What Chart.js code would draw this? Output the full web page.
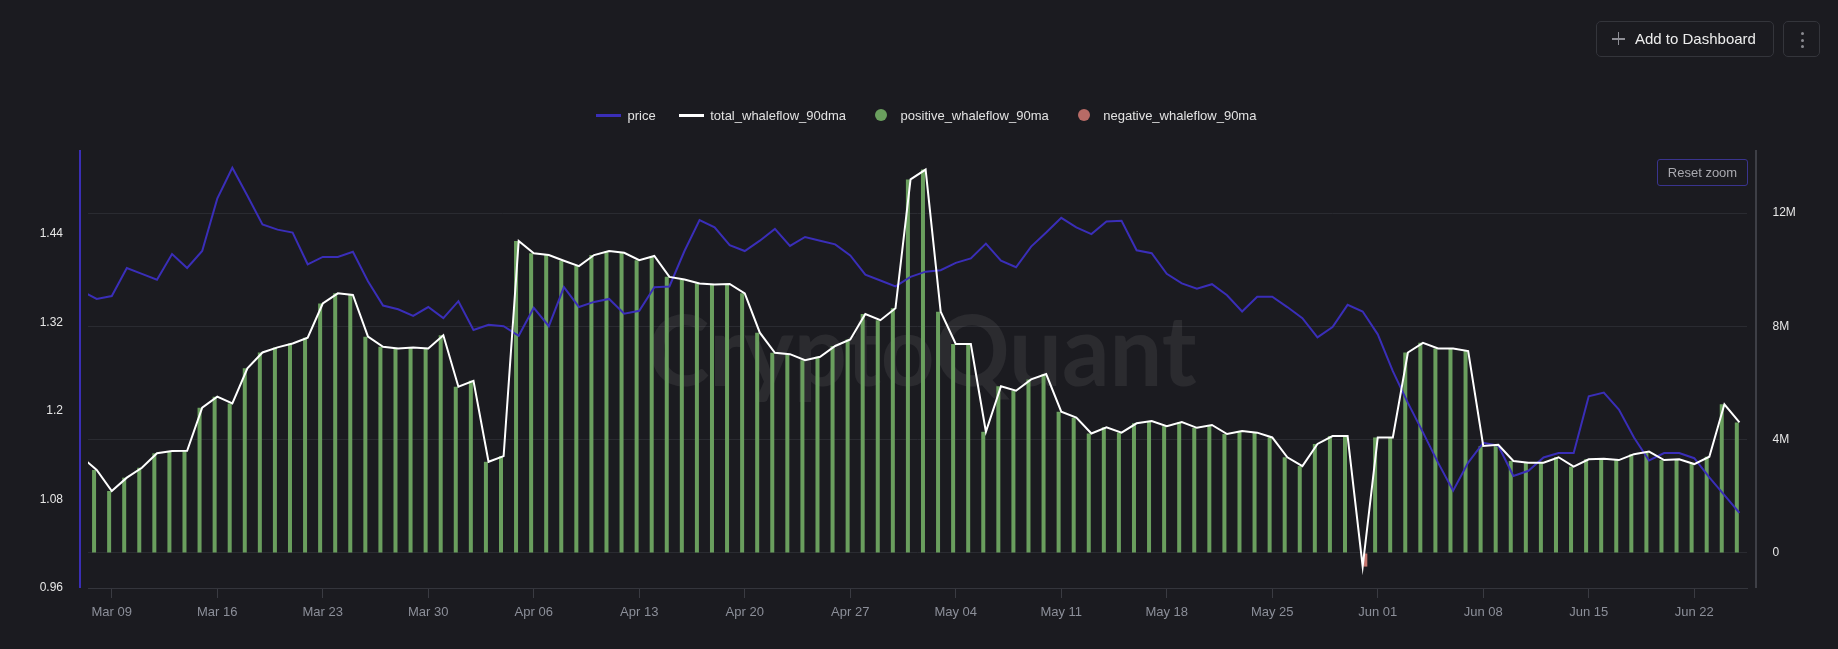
<!DOCTYPE html>
<html lang="en">
<head>
  <meta charset="UTF-8">
  <title>Whaleflow 90ma</title>
  <style>
    html, body {
      margin: 0;
      padding: 0;
      background: #1b1b20;
      overflow: hidden;
    }
    body {
      font-family: "Liberation Sans", Arial, sans-serif;
    }
    .wrap {
      position: relative;
      width: 1838px;
      height: 649px;
    }
    canvas {
      position: absolute;
      left: 0;
      top: 0;
    }
    .btn {
      position: absolute;
      box-sizing: border-box;
      border: 1px solid #34353b;
      border-radius: 5px;
      color: #ededed;
    }
    #addBtn {
      left: 1596px;
      top: 21px;
      width: 178px;
      height: 36px;
      font-size: 15px;
      line-height: 34px;
      padding-left: 38px;
    }
    #addBtn .plus-h, #addBtn .plus-v {
      position: absolute;
      background: #8e8e95;
    }
    #addBtn .plus-h { left: 15px; top: 16px; width: 13px; height: 1.5px; }
    #addBtn .plus-v { left: 20.75px; top: 10.25px; width: 1.5px; height: 13px; }
    #moreBtn {
      left: 1783px;
      top: 21px;
      width: 37px;
      height: 36px;
    }
    #moreBtn span {
      position: absolute;
      left: 17px;
      width: 3px;
      height: 3px;
      border-radius: 50%;
      background: #8a8a90;
    }
    #resetBtn {
      position: absolute;
      box-sizing: border-box;
      left: 1657px;
      top: 159px;
      width: 91px;
      height: 27px;
      border: 1px solid #3a348e;
      border-radius: 3px;
      color: #a9a9af;
      font-size: 13px;
      line-height: 25px;
      text-align: center;
    }
    .legend {
      position: absolute;
      left: 596px;
      top: 106px;
      height: 18px;
      display: flex;
      align-items: center;
      font-size: 13px;
      color: #e2e2e2;
      white-space: nowrap;
    }
    .legend .item { display: flex; align-items: center; }
    .legend .item + .item { margin-left: 23px; }
    .legend .item.is-dot { margin-left: 29px; }
    .legend .is-line .sym { width: 25px; height: 3px; margin-right: 6.5px; }
    .legend .is-dot .sym { width: 12px; height: 12px; border-radius: 50%; margin-right: 13.5px; }
  </style>
</head>
<body>
  <div class="wrap">
    <canvas id="chart" width="1838" height="649"></canvas>
    <div class="legend" id="legend"></div>
    <div class="btn" id="addBtn"><span class="plus-h"></span><span class="plus-v"></span>Add to Dashboard</div>
    <div class="btn" id="moreBtn"><span style="top:10px"></span><span style="top:16.5px"></span><span style="top:23px"></span></div>
    <div id="resetBtn">Reset zoom</div>
  </div>

  <script src="https://cdn.jsdelivr.net/npm/chart.js"></script>

  <script>
    // daily points, Mar 07 .. Jun 25
    const dates = [
      'Mar 07', 'Mar 08', 'Mar 09', 'Mar 10', 'Mar 11', 'Mar 12', 'Mar 13', 'Mar 14', 'Mar 15', 'Mar 16',
      'Mar 17', 'Mar 18', 'Mar 19', 'Mar 20', 'Mar 21', 'Mar 22', 'Mar 23', 'Mar 24', 'Mar 25', 'Mar 26',
      'Mar 27', 'Mar 28', 'Mar 29', 'Mar 30', 'Mar 31',
      'Apr 01', 'Apr 02', 'Apr 03', 'Apr 04', 'Apr 05', 'Apr 06', 'Apr 07', 'Apr 08', 'Apr 09', 'Apr 10',
      'Apr 11', 'Apr 12', 'Apr 13', 'Apr 14', 'Apr 15', 'Apr 16', 'Apr 17', 'Apr 18', 'Apr 19', 'Apr 20',
      'Apr 21', 'Apr 22', 'Apr 23', 'Apr 24', 'Apr 25', 'Apr 26', 'Apr 27', 'Apr 28', 'Apr 29', 'Apr 30',
      'May 01', 'May 02', 'May 03', 'May 04', 'May 05', 'May 06', 'May 07', 'May 08', 'May 09', 'May 10',
      'May 11', 'May 12', 'May 13', 'May 14', 'May 15', 'May 16', 'May 17', 'May 18', 'May 19', 'May 20',
      'May 21', 'May 22', 'May 23', 'May 24', 'May 25', 'May 26', 'May 27', 'May 28', 'May 29', 'May 30',
      'May 31',
      'Jun 01', 'Jun 02', 'Jun 03', 'Jun 04', 'Jun 05', 'Jun 06', 'Jun 07', 'Jun 08', 'Jun 09', 'Jun 10',
      'Jun 11', 'Jun 12', 'Jun 13', 'Jun 14', 'Jun 15', 'Jun 16', 'Jun 17', 'Jun 18', 'Jun 19', 'Jun 20',
      'Jun 21', 'Jun 22', 'Jun 23', 'Jun 24', 'Jun 25'
    ];

    const price = [
      1.363, 1.352, 1.356, 1.394, 1.386, 1.378, 1.413, 1.394, 1.417, 1.488,
      1.530, 1.492, 1.453, 1.446, 1.442, 1.399, 1.409, 1.409, 1.416, 1.376,
      1.343, 1.338, 1.329, 1.341, 1.326,
      1.349, 1.310, 1.317, 1.315, 1.302, 1.340, 1.315, 1.368, 1.341, 1.348,
      1.352, 1.332, 1.336, 1.368, 1.369, 1.417, 1.459, 1.449, 1.425, 1.417,
      1.431, 1.447, 1.424, 1.436, 1.431, 1.426, 1.411, 1.385, 1.377, 1.369,
      1.382, 1.389, 1.391, 1.401, 1.407, 1.427, 1.404, 1.395, 1.423, 1.442,
      1.462, 1.449, 1.440, 1.457, 1.458, 1.418, 1.414, 1.386, 1.373, 1.366,
      1.372, 1.357, 1.335, 1.355, 1.355, 1.341, 1.326, 1.300, 1.314, 1.344,
      1.335,
      1.304, 1.254, 1.211, 1.171, 1.130, 1.092, 1.130, 1.157, 1.153, 1.112,
      1.119, 1.137, 1.143, 1.143, 1.220, 1.225, 1.202, 1.164, 1.133, 1.143,
      1.143, 1.136, 1.110, 1.086, 1.062
    ];

    // whaleflow values in millions
    const totalFlow = [
      3.39, 2.93, 2.19, 2.66, 3.01, 3.52, 3.60, 3.61, 5.13, 5.52,
      5.28, 6.52, 7.08, 7.26, 7.40, 7.60, 8.81, 9.17, 9.11, 7.64,
      7.28, 7.22, 7.26, 7.22, 7.69,
      5.87, 6.08, 3.22, 3.42, 11.02, 10.58, 10.52, 10.32, 10.13, 10.52,
      10.66, 10.60, 10.34, 10.49, 9.75, 9.66, 9.52, 9.48, 9.50, 9.17,
      7.78, 7.07, 7.02, 6.81, 6.93, 7.31, 7.54, 8.44, 8.22, 8.64,
      13.19, 13.54, 8.52, 7.38, 7.38, 4.28, 5.89, 5.73, 6.13, 6.32,
      4.99, 4.78, 4.22, 4.44, 4.25, 4.58, 4.66, 4.48, 4.62, 4.42,
      4.52, 4.20, 4.31, 4.25, 4.08, 3.38, 3.07, 3.85, 4.13, 4.13,
      -0.48,
      4.08, 4.08, 7.08, 7.42, 7.22, 7.22, 7.13, 3.78, 3.82, 3.25,
      3.19, 3.19, 3.38, 3.05, 3.31, 3.33, 3.28, 3.49, 3.58, 3.28,
      3.31, 3.14, 3.40, 5.25, 4.61
    ];

    const positiveFlow = [
      3.39, 2.93, 2.19, 2.66, 3.01, 3.52, 3.60, 3.61, 5.13, 5.52,
      5.28, 6.52, 7.08, 7.26, 7.40, 7.60, 8.81, 9.17, 9.11, 7.64,
      7.28, 7.22, 7.26, 7.22, 7.69,
      5.87, 6.08, 3.22, 3.42, 11.02, 10.58, 10.52, 10.32, 10.13, 10.52,
      10.66, 10.60, 10.34, 10.49, 9.75, 9.66, 9.52, 9.48, 9.50, 9.17,
      7.78, 7.07, 7.02, 6.81, 6.93, 7.31, 7.54, 8.44, 8.22, 8.64,
      13.19, 13.54, 8.52, 7.38, 7.38, 4.28, 5.89, 5.73, 6.13, 6.32,
      4.99, 4.78, 4.22, 4.44, 4.25, 4.58, 4.66, 4.48, 4.62, 4.42,
      4.52, 4.20, 4.31, 4.25, 4.08, 3.38, 3.07, 3.85, 4.13, 4.13,
      null,
      4.08, 4.08, 7.08, 7.42, 7.22, 7.22, 7.13, 3.78, 3.82, 3.25,
      3.19, 3.19, 3.38, 3.05, 3.31, 3.33, 3.28, 3.49, 3.58, 3.28,
      3.31, 3.14, 3.40, 5.25, 4.61
    ];

    const negativeDates = ['May 31'];
    const negativeFlow = [-0.48];

    const tickLabels = ['Mar 09', 'Mar 16', 'Mar 23', 'Mar 30', 'Apr 06', 'Apr 13', 'Apr 20', 'Apr 27',
                        'May 04', 'May 11', 'May 18', 'May 25', 'Jun 01', 'Jun 08', 'Jun 15', 'Jun 22'];
    const priceTicks = [0.96, 1.08, 1.2, 1.32, 1.44];
    const priceTickLabels = ['0.96', '1.08', '1.2', '1.32', '1.44'];
    const flowTicks = [0, 4, 8, 12];
    const flowTickLabels = ['0', '4M', '8M', '12M'];

    const toPoints = arr => arr.map((v, i) => ({ x: i, y: v }));

    Chart.defaults.font.family = '"Liberation Sans", Arial, sans-serif';

    // offset axis lines + watermark
    const decor = {
      id: 'decor',
      beforeDatasetsDraw(chart) {
        const { ctx, chartArea: a } = chart;
        const text = 'CryptoQuant';
        ctx.save();
        ctx.font = 'bold 97px Lato';
        const w = ctx.measureText(text).width;
        ctx.translate((a.left + a.right) / 2 + 4.5, a.top + 236);
        ctx.scale(549 / w, 1);
        ctx.textAlign = 'center';
        ctx.textBaseline = 'alphabetic';
        ctx.fillStyle = 'rgba(255, 255, 255, 0.07)';
        ctx.fillText(text, 0, 0);
        ctx.restore();
      },
      afterDraw(chart) {
        const { ctx, chartArea: a } = chart;
        ctx.save();
        ctx.lineWidth = 2;
        ctx.strokeStyle = '#3a2eb5';
        ctx.beginPath();
        ctx.moveTo(a.left - 8, a.top);
        ctx.lineTo(a.left - 8, a.bottom);
        ctx.stroke();
        ctx.strokeStyle = '#3e3f46';
        ctx.beginPath();
        ctx.moveTo(a.right + 9, a.top);
        ctx.lineTo(a.right + 9, a.bottom);
        ctx.stroke();
        ctx.restore();
      }
    };

    const chart = new Chart(document.getElementById('chart').getContext('2d'), {
      type: 'line',
      data: {
        datasets: [
          {
            type: 'line',
            label: 'price',
            data: toPoints(price),
            yAxisID: 'yPrice',
            borderColor: '#3a2eb8',
            borderWidth: 2,
            pointRadius: 0,
            tension: 0,
            clip: 0,
            order: 2
          },
          {
            type: 'line',
            label: 'total_whaleflow_90dma',
            data: toPoints(totalFlow),
            yAxisID: 'yFlow',
            borderColor: '#ffffff',
            borderWidth: 2,
            pointRadius: 0,
            tension: 0,
            clip: 0,
            order: 1
          },
          {
            type: 'bar',
            label: 'positive_whaleflow_90ma',
            data: toPoints(positiveFlow),
            yAxisID: 'yFlow',
            backgroundColor: '#6a9f5e',
            legendColor: '#6a9f5e',
            categoryPercentage: 0.7,
            barPercentage: 0.76,
            order: 3
          },
          {
            type: 'bar',
            label: 'negative_whaleflow_90ma',
            data: negativeDates.map((d, i) => ({ x: dates.indexOf(d), y: negativeFlow[i] })),
            yAxisID: 'yFlow',
            backgroundColor: '#c4766f',
            legendColor: '#b86b66',
            categoryPercentage: 0.7,
            barPercentage: 0.76,
            order: 4
          }
        ]
      },
      options: {
        responsive: false,
        animation: false,
        events: [],
        layout: { padding: { top: 150, left: 0, right: 0, bottom: 0 } },
        plugins: {
          legend: { display: false },
          tooltip: { enabled: false }
        },
        scales: {
          x: {
            type: 'linear',
            min: 0.423,
            max: 110.5,
            offset: false,
            afterBuildTicks: s => { s.ticks = tickLabels.map(l => ({ value: dates.indexOf(l) })); },
            afterFit: s => { s.height = 61; },
            ticks: {
              callback: v => dates[v],
              color: '#8c8f99',
              font: { size: 13 },
              padding: 7,
              maxRotation: 0,
              autoSkip: false
            },
            grid: { offset: false, drawOnChartArea: false, drawTicks: true, tickLength: 10, color: '#3a3b42' },
            border: { display: true, color: '#34353c', width: 1 }
          },
          yPrice: {
            type: 'linear',
            position: 'left',
            min: 0.96,
            max: 1.554,
            afterBuildTicks: s => { s.ticks = priceTicks.map(v => ({ value: v })); },
            afterFit: s => { s.width = 88; },
            ticks: {
              callback: v => priceTickLabels[priceTicks.indexOf(v)],
              color: '#e6e6e6',
              font: { size: 12 },
              padding: 17
            },
            grid: { display: false },
            border: { display: false }
          },
          yFlow: {
            type: 'linear',
            position: 'right',
            min: -1.236,
            max: 14.23,
            afterBuildTicks: s => { s.ticks = flowTicks.map(v => ({ value: v })); },
            afterFit: s => { s.width = 91; },
            ticks: {
              callback: v => flowTickLabels[flowTicks.indexOf(v)],
              color: '#e6e6e6',
              font: { size: 12 },
              padding: 25.5
            },
            grid: { color: '#2a2b31', drawTicks: false },
            border: { display: false }
          }
        }
      },
      plugins: [decor]
    });

    // html legend built from the chart's datasets
    const legendBox = document.getElementById('legend');
    chart.data.datasets.forEach(ds => {
      const item = document.createElement('div');
      item.className = 'item ' + (ds.type === 'line' ? 'is-line' : 'is-dot');
      const sym = document.createElement('span');
      sym.className = 'sym';
      sym.style.background = ds.type === 'line' ? ds.borderColor : ds.legendColor;
      const txt = document.createElement('span');
      txt.textContent = ds.label;
      item.appendChild(sym);
      item.appendChild(txt);
      legendBox.appendChild(item);
    });
  </script>
</body>
</html>
